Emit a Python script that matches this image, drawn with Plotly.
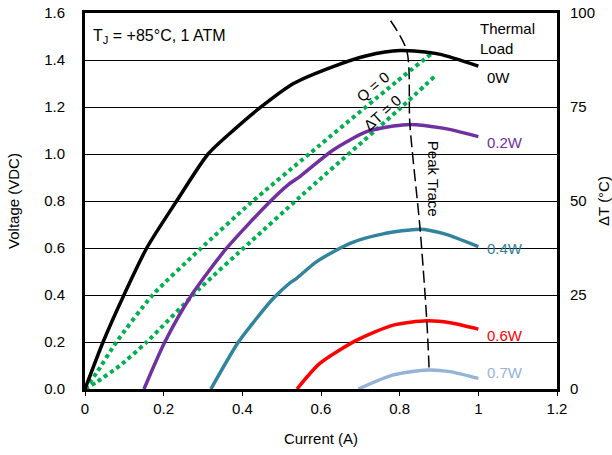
import plotly.graph_objects as go

# ---- data ----
cur_0w = [0.0, 0.046, 0.099, 0.157, 0.233, 0.313, 0.38, 0.445, 0.53, 0.631, 0.716, 0.801, 0.9, 1.0]
v_0w = [0.0, 0.2, 0.4, 0.6, 0.8, 1.0, 1.105, 1.197, 1.3, 1.372, 1.418, 1.44, 1.425, 1.374]

cur_02w = [0.15, 0.203, 0.271, 0.36, 0.47, 0.517, 0.547, 0.631, 0.716, 0.784, 0.826, 0.91, 1.0]
v_02w = [0.0, 0.2, 0.4, 0.599, 0.797, 0.87, 0.905, 1.017, 1.095, 1.119, 1.126, 1.11, 1.074]

cur_04w = [0.32, 0.39, 0.436, 0.479, 0.52, 0.538, 0.589, 0.674, 0.758, 0.852, 0.91, 1.0]
v_04w = [0.0, 0.2, 0.3, 0.386, 0.45, 0.471, 0.542, 0.62, 0.66, 0.68, 0.662, 0.606]

cur_06w = [0.539, 0.597, 0.691, 0.784, 0.869, 0.928, 1.0]
v_06w = [0.0, 0.109, 0.208, 0.272, 0.29, 0.282, 0.255]

cur_07w = [0.695, 0.784, 0.872, 0.928, 1.0]
v_07w = [0.0, 0.06, 0.081, 0.074, 0.045]

cur_q0 = [0.0, 0.03, 0.08, 0.172, 0.292, 0.42, 0.572, 0.792, 0.884]
v_q0 = [0.0, 0.07, 0.2, 0.4, 0.594, 0.79, 1.003, 1.308, 1.431]

cur_dt0 = [0.0, 0.03, 0.089, 0.157, 0.292, 0.42, 0.547, 0.801, 0.89]
v_dt0 = [0.0, 0.03, 0.1, 0.2, 0.428, 0.625, 0.818, 1.194, 1.332]

cur_peak = [0.777, 0.818, 0.826, 0.852, 0.869, 0.875]
v_peak = [1.567, 1.44, 1.126, 0.68, 0.29, 0.081]

load_names = ["0W", "0.2W", "0.4W", "0.6W", "0.7W"]
load_colors = ["#000000", "#7030A0", "#31849B", "#FF0000", "#95B3D7"]
load_label_y = [1.325, 1.047, 0.596, 0.226, 0.069]

v_ticks = [0.0, 0.2, 0.4, 0.6, 0.8, 1.0, 1.2, 1.4, 1.6]
v_ticktext = ["0.0", "0.2", "0.4", "0.6", "0.8", "1.0", "1.2", "1.4", "1.6"]
dt_ticks = [0, 25, 50, 75, 100]
x_ticks = [0, 0.2, 0.4, 0.6, 0.8, 1.0, 1.2]
x_ticktext = ["0", "0.2", "0.4", "0.6", "0.8", "1", "1.2"]

FONT = "Liberation Sans, Arial, sans-serif"

fig = go.Figure()

green = "#00B050"
for xs, ys in [(cur_q0, v_q0), (cur_dt0, v_dt0)]:
    fig.add_trace(go.Scatter(x=xs, y=ys, mode="lines",
                             line=dict(color=green, width=4, dash="4px,3.5px", shape="spline", smoothing=0.6),
                             hoverinfo="skip", showlegend=False))

series = [(cur_0w, v_0w), (cur_02w, v_02w), (cur_04w, v_04w), (cur_06w, v_06w), (cur_07w, v_07w)]
for (xs, ys), c in zip(series, load_colors):
    fig.add_trace(go.Scatter(x=xs, y=ys, mode="lines",
                             line=dict(color=c, width=3.5, shape="spline", smoothing=0.7),
                             showlegend=False))

fig.add_trace(go.Scatter(x=cur_peak, y=v_peak, mode="lines",
                         line=dict(color="black", width=1.5, dash="12px,5px", shape="spline", smoothing=0.8),
                         showlegend=False, hoverinfo="skip"))

# secondary axis carrier (invisible)
fig.add_trace(go.Scatter(x=[0], y=[0], yaxis="y2", mode="markers",
                         marker=dict(opacity=0), showlegend=False, hoverinfo="skip"))

ann = []
for name, c, yy in zip(load_names, load_colors, load_label_y):
    ann.append(dict(x=1.017, y=yy, text=name, showarrow=False, xanchor="left",
                    yanchor="middle", font=dict(color=c, size=15, family=FONT)))
ann.append(dict(x=1.0, y=1.49, text="Thermal<br>Load", showarrow=False, xanchor="left",
                yanchor="middle", align="left", font=dict(color="black", size=15, family=FONT)))
ann.append(dict(x=0.016, y=1.5, text="T<sub>J</sub> = +85°C, 1 ATM", showarrow=False,
                xanchor="left", yanchor="middle", font=dict(color="black", size=16, family=FONT)))
ann.append(dict(x=0.732, y=1.289, text="Q = 0", showarrow=False, textangle=-40,
                font=dict(color="black", size=15, family=FONT)))
ann.append(dict(x=0.756, y=1.177, text="ΔT = 0", showarrow=False, textangle=-42,
                font=dict(color="black", size=15, family=FONT)))
ann.append(dict(x=0.885, y=0.894, text="Peak Trace", showarrow=False, textangle=90,
                font=dict(color="black", size=15, family=FONT)))

fig.update_layout(
    width=612, height=455,
    margin=dict(l=85, r=55, t=13, b=66),
    paper_bgcolor="white", plot_bgcolor="white",
    font=dict(family=FONT, size=15, color="black"),
    annotations=ann,
    xaxis=dict(range=[0, 1.2], tickvals=x_ticks, ticktext=x_ticktext, automargin=False,
               showgrid=False, zeroline=False, showline=True, linecolor="black",
               linewidth=3, mirror=True, ticks="outside", ticklen=4, tickcolor="black",
               tickwidth=1, title=dict(text="Current (A)", font=dict(size=15), standoff=18)),
    yaxis=dict(range=[0, 1.6], tickvals=v_ticks, ticktext=v_ticktext, automargin=False,
               showgrid=True, gridcolor="black", gridwidth=1, zeroline=False,
               showline=True, linecolor="black", linewidth=3, mirror=True,
               ticks="", ticklabelstandoff=14,
               title=dict(text="Voltage (VDC)", font=dict(size=15), standoff=21)),
    yaxis2=dict(range=[0, 100], tickvals=dt_ticks, overlaying="y", side="right", automargin=False,
                showgrid=False, zeroline=False, showline=False, ticks="",
                ticklabelstandoff=12,
                title=dict(text="ΔT (°C)", font=dict(size=15), standoff=4)),
)

fig.write_html("out.html", config={"displayModeBar": False},
               post_script="document.body.style.margin='0';")
